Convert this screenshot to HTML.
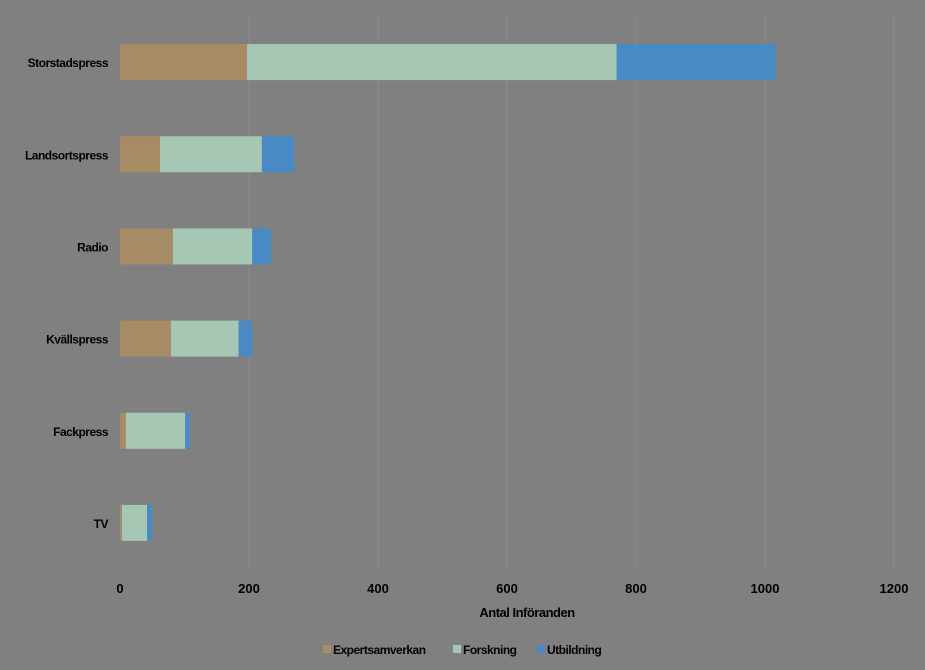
<!DOCTYPE html>
<html><head><meta charset="utf-8"><style>
body{margin:0;background:#808080;}
svg{display:block;font-family:"Liberation Sans",sans-serif;font-weight:bold;}
</style></head><body>
<svg id="c" width="925" height="670"></svg>
<script>
const categories=["Storstadspress","Landsortspress","Radio","Kvällspress","Fackpress","TV"];
const expert=[197,62,82,79,9,3];
const forskning=[573,158,123,105,92,39];
const utbildning=[247,50,29,21,7,8];
const ticks=[0,200,400,600,800,1000,1200];
const seriesNames=["Expertsamverkan","Forskning","Utbildning"];
const colors=["#a68b65","#a5c7b4","#4a8ac4"];
const NS="http://www.w3.org/2000/svg",svgEl=document.getElementById('c');
const plotX0=120,plotX1=894,plotTop=16,plotBot=569;
const X=v=>plotX0+v/1200*(plotX1-plotX0);
const band=(plotBot-plotTop)/categories.length;
const Y=i=>plotTop+band*(i+0.5);
function el(t,a,p){const e=document.createElementNS(NS,t);for(const k in a)e.setAttribute(k,a[k]);(p||svgEl).appendChild(e);return e;}
ticks.forEach(t=>{
 if(t>0){const g=el('line',{x1:X(t),x2:X(t),y1:plotTop,y2:plotBot,stroke:'#8c8c8c','stroke-width':1});
 
 }
 const l=el('text',{x:X(t),y:593,'text-anchor':'middle','font-size':13,fill:'#000'});l.textContent=t;
 
 
});
const ax=el('line',{x1:plotX0,x2:plotX0,y1:plotTop,y2:plotBot,stroke:'#888','stroke-width':1});


const data=[expert,forskning,utbildning];
categories.forEach((c,i)=>{
 let acc=0;const y=Y(i);
 data.forEach((s,k)=>{
  const r=el('rect',{x:X(acc),y:y-18,width:X(acc+s[i])-X(acc),height:36,fill:colors[k]});
  
  
  acc+=s[i];
 });
 const t=el('text',{x:108,y:y+5,'text-anchor':'end','font-size':12,fill:'#000','letter-spacing':'-0.5'});t.textContent=c;
 
 
});
const at=el('text',{x:527,y:617,'text-anchor':'middle','font-size':13,fill:'#000','letter-spacing':'-0.5'});at.textContent="Antal Införanden";


const lx=[323,453,537];
seriesNames.forEach((n,k)=>{
 const g=el('g',{});
 
 
 el('rect',{x:lx[k],y:645,width:8,height:8,fill:colors[k]},g);
 const t=el('text',{x:lx[k]+10,y:654,'font-size':12,fill:'#000','letter-spacing':'-0.5'},g);t.textContent=n;
});
</script></body></html>
